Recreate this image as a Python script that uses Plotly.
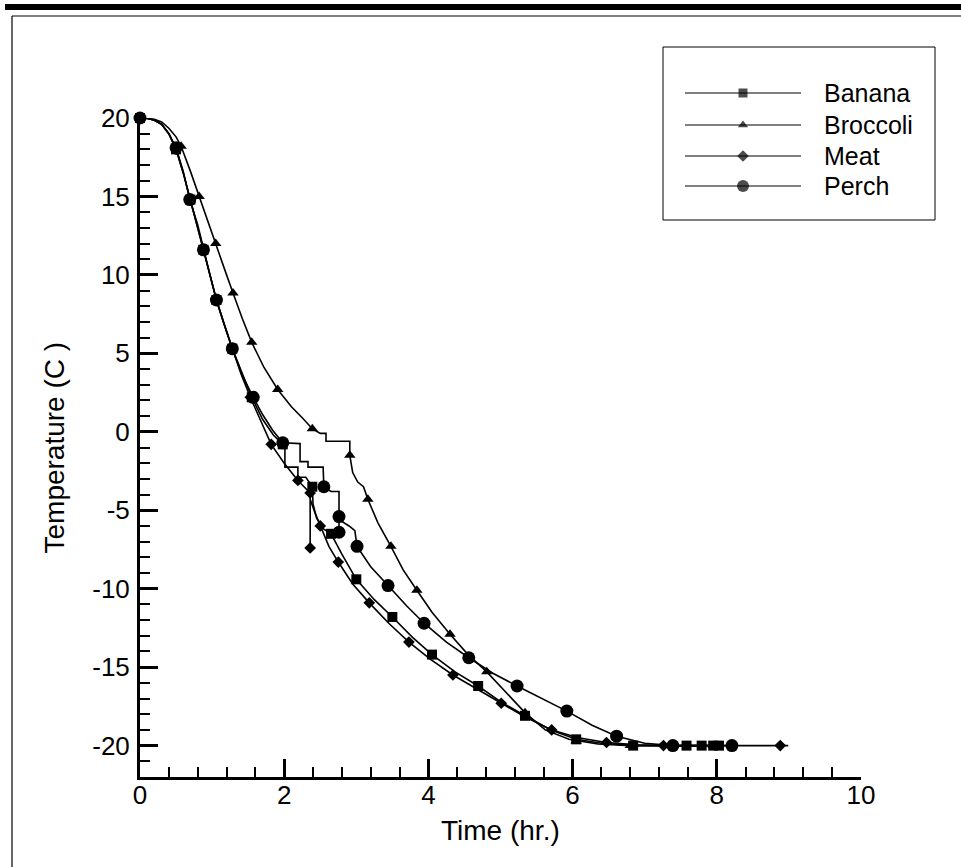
import plotly.graph_objects as go

# ---------------- data (time in hr, temperature in C) ----------------
banana_line = [(0, 20), (0.1, 19.98), (0.2, 19.85), (0.3, 19.6), (0.4, 19.0), (0.5, 18.0), (0.6, 16.5),
               (0.7, 14.8), (0.8, 13.1), (0.88, 11.6), (0.97, 10.0), (1.06, 8.4), (1.17, 6.8), (1.28, 5.3),
               (1.42, 3.7), (1.55, 2.2), (1.7, 0.8), (1.85, -0.2), (1.98, -0.8), (2.01, -0.8), (2.01, -2.25),
               (2.19, -2.25), (2.19, -2.9), (2.3, -2.9), (2.39, -3.5), (2.4, -4.6), (2.45, -5.5), (2.55, -6.2),
               (2.65, -6.5), (2.8, -7.8), (3.0, -9.4), (3.25, -10.7), (3.5, -11.8), (3.78, -13.1), (4.05, -14.2),
               (4.37, -15.3), (4.69, -16.2), (5.0, -17.2), (5.34, -18.1), (5.7, -19.0), (6.05, -19.6),
               (6.4, -19.85), (6.84, -20.0), (7.3, -20.0), (8.03, -20.0)]
banana_marks = [(0, 20), (0.5, 18.0), (0.7, 14.8), (0.88, 11.6), (1.06, 8.4), (1.28, 5.3), (1.55, 2.2),
                (1.98, -0.8), (2.39, -3.5), (2.65, -6.5), (3.0, -9.4), (3.5, -11.8), (4.05, -14.2),
                (4.69, -16.2), (5.34, -18.1), (6.05, -19.6), (6.84, -20.0), (7.58, -20.0), (7.79, -20.0),
                (7.95, -20.0), (8.03, -20.0)]

broccoli_line = [(0, 20), (0.1, 19.98), (0.2, 19.92), (0.3, 19.75), (0.4, 19.35), (0.5, 18.8), (0.57, 18.2),
                 (0.7, 16.6), (0.82, 15.0), (0.93, 13.5), (1.05, 12.0), (1.17, 10.4), (1.29, 8.85), (1.42, 7.2),
                 (1.55, 5.7), (1.72, 4.1), (1.91, 2.7), (2.1, 1.6), (2.25, 0.9), (2.39, 0.2), (2.5, -0.1),
                 (2.58, -0.1), (2.58, -0.6), (2.91, -0.6), (2.91, -1.5), (2.95, -2.6), (3.02, -3.2), (3.1, -3.5),
                 (3.16, -4.3), (3.3, -5.8), (3.48, -7.3), (3.65, -8.8), (3.84, -10.1), (4.05, -11.5),
                 (4.3, -12.9), (4.55, -14.2), (4.81, -15.3), (5.07, -16.6), (5.34, -17.9), (5.62, -19.0),
                 (5.95, -19.6), (6.35, -19.9), (6.8, -20.0), (7.95, -20.0)]
broccoli_marks = [(0, 20), (0.57, 18.2), (0.82, 15.0), (1.05, 12.0), (1.29, 8.85), (1.55, 5.7), (1.91, 2.7),
                  (2.39, 0.2), (2.91, -1.5), (3.16, -4.3), (3.48, -7.3), (3.84, -10.1), (4.3, -12.9),
                  (4.81, -15.3), (5.34, -17.9), (6.05, -19.7), (6.8, -20.0), (7.95, -20.0)]

meat_line = [(0, 20), (0.1, 19.98), (0.2, 19.85), (0.3, 19.6), (0.4, 19.0), (0.5, 18.0), (0.6, 16.5),
             (0.7, 14.8), (0.8, 13.1), (0.88, 11.6), (0.97, 10.0), (1.06, 8.4), (1.17, 6.8), (1.28, 5.3),
             (1.4, 3.7), (1.53, 2.2), (1.68, 0.6), (1.82, -0.8), (2.0, -2.0), (2.19, -3.1), (2.36, -3.9),
             (2.36, -7.4), (2.36, -4.3), (2.43, -5.2), (2.5, -6.0), (2.62, -7.3), (2.75, -8.3), (2.95, -9.7),
             (3.18, -10.9), (3.45, -12.2), (3.73, -13.4), (4.03, -14.5), (4.34, -15.5), (4.67, -16.4),
             (5.01, -17.3), (5.35, -18.2), (5.71, -19.0), (6.08, -19.5), (6.47, -19.8), (6.9, -19.95),
             (7.26, -20.0), (8.88, -20.0), (8.99, -20.0)]
meat_marks = [(0, 20), (0.5, 18.0), (0.7, 14.8), (0.88, 11.6), (1.06, 8.4), (1.28, 5.3), (1.53, 2.2),
              (1.82, -0.8), (2.19, -3.1), (2.36, -3.9), (2.36, -7.4), (2.5, -6.0), (2.75, -8.3), (3.18, -10.9),
              (3.73, -13.4), (4.34, -15.5), (5.01, -17.3), (5.71, -19.0), (6.47, -19.8), (7.26, -20.0),
              (8.88, -20.0)]

perch_line = [(0, 20), (0.1, 19.98), (0.2, 19.85), (0.3, 19.6), (0.4, 19.0), (0.5, 18.1), (0.6, 16.6),
              (0.69, 14.8), (0.8, 13.2), (0.88, 11.6), (0.97, 10.0), (1.06, 8.4), (1.17, 6.8), (1.28, 5.3),
              (1.42, 3.6), (1.57, 2.2), (1.7, 1.1), (1.84, 0.1), (1.98, -0.7), (2.22, -0.75), (2.22, -1.9),
              (2.33, -1.9), (2.33, -2.25), (2.54, -2.25), (2.55, -3.5), (2.65, -3.8), (2.76, -3.8),
              (2.76, -6.4), (2.76, -5.6), (2.9, -6.0), (2.98, -6.3), (3.01, -7.3), (3.2, -8.6), (3.44, -9.8),
              (3.7, -11.1), (3.94, -12.2), (4.25, -13.4), (4.56, -14.4), (4.9, -15.4), (5.23, -16.2),
              (5.58, -17.0), (5.92, -17.8), (6.27, -18.7), (6.61, -19.4), (7.0, -19.85), (7.39, -20.0),
              (8.21, -20.0)]
perch_marks = [(0, 20), (0.5, 18.1), (0.69, 14.8), (0.88, 11.6), (1.06, 8.4), (1.28, 5.3), (1.57, 2.2),
               (1.98, -0.7), (2.55, -3.5), (2.76, -5.4), (2.76, -6.4), (3.01, -7.3), (3.44, -9.8),
               (3.94, -12.2), (4.56, -14.4), (5.23, -16.2), (5.92, -17.8), (6.61, -19.4), (7.39, -20.0),
               (8.21, -20.0)]

series_names = ["Banana", "Broccoli", "Meat", "Perch"]
x_title = "Time (hr.)"
y_title = "Temperature (C )"
x_tick_values = [0, 2, 4, 6, 8, 10]
x_tick_labels = ["0", "2", "4", "6", "8", "10"]
y_tick_values = [20, 15, 10, 5, 0, -5, -10, -15, -20]
y_tick_labels = ["20", "15", "10", "5", "0", "-5", "-10", "-15", "-20"]

# ---------------- styling ----------------
FONT = "Liberation Sans, Arial, Helvetica, sans-serif"
W, H = 961, 867
symbols = {"Banana": "square", "Broccoli": "triangle-up", "Meat": "diamond", "Perch": "circle"}
msize = {"Banana": 10, "Broccoli": 10, "Meat": 9, "Perch": 13}
lsize = {"Banana": 9, "Broccoli": 9, "Meat": 9, "Perch": 12}
lines = {"Banana": banana_line, "Broccoli": broccoli_line, "Meat": meat_line, "Perch": perch_line}
marks = {"Banana": banana_marks, "Broccoli": broccoli_marks, "Meat": meat_marks, "Perch": perch_marks}

# plot area in pixels
PL, PR, PT, PB = 140, 861, 118, 777

fig = go.Figure()
for name in series_names:
    lx, ly = zip(*lines[name])
    fig.add_trace(go.Scatter(x=list(lx), y=list(ly), mode="lines", line=dict(color="black", width=1.6),
                             showlegend=False, cliponaxis=False, xaxis="x", yaxis="y"))
for name in series_names:
    mx, my = zip(*marks[name])
    fig.add_trace(go.Scatter(x=list(mx), y=list(my), mode="markers", name=name,
                             marker=dict(symbol=symbols[name], size=msize[name], color="black",
                                         line=dict(width=0)),
                             showlegend=False, cliponaxis=False, xaxis="x", yaxis="y"))

# legend drawn in a pixel-coordinate overlay subplot
LEG_X0, LEG_X1, LEG_Y0, LEG_Y1 = 663, 935, 47, 220
LEG_LX0, LEG_LX1, LEG_MX, LEG_TX = 685, 801, 743, 822
LEG_ROWS = [93, 125, 156, 186]

fig.add_trace(go.Scatter(x=[LEG_MX] * 4, y=LEG_ROWS, mode="markers",
                         marker=dict(symbol=[symbols[n] for n in series_names],
                                     size=[lsize[n] for n in series_names], color="black", line=dict(width=0)),
                         showlegend=False, cliponaxis=False, xaxis="x2", yaxis="y2", hoverinfo="skip"))

shapes = [
    dict(type="rect", xref="x2", yref="y2", x0=5, x1=961, y0=4, y1=10, fillcolor="black",
         line=dict(width=0)),
    dict(type="line", xref="x2", yref="y2", x0=12, x1=961, y0=16, y1=16, line=dict(color="black", width=1.2)),
    dict(type="line", xref="x2", yref="y2", x0=12, x1=12, y0=16, y1=867, line=dict(color="black", width=1.2)),
    dict(type="rect", xref="x2", yref="y2", x0=LEG_X0, x1=LEG_X1, y0=LEG_Y0, y1=LEG_Y1,
         line=dict(color="black", width=1), fillcolor="rgba(0,0,0,0)"),
]
for ry in LEG_ROWS:
    shapes.append(dict(type="line", xref="x2", yref="y2", x0=LEG_LX0, x1=LEG_LX1, y0=ry, y1=ry,
                       line=dict(color="black", width=1), layer="below"))

annotations = []
for name, ry in zip(series_names, LEG_ROWS):
    annotations.append(dict(xref="x2", yref="y2", x=LEG_TX, y=ry, text=name, showarrow=False,
                            xanchor="left", yanchor="middle", font=dict(family=FONT, size=25, color="black")))
annotations.append(dict(xref="x2", yref="y2", x=(PL + PR) / 2, y=830, text=x_title, showarrow=False,
                        xanchor="center", yanchor="middle", font=dict(family=FONT, size=28, color="black")))
annotations.append(dict(xref="x2", yref="y2", x=54, y=(PT + PB) / 2, text=y_title, showarrow=False,
                        textangle=-90, xanchor="center", yanchor="middle",
                        font=dict(family=FONT, size=28, color="black")))

axis_common = dict(showgrid=False, zeroline=False, showline=True, linecolor="black", linewidth=3,
                   ticks="inside", ticklen=18, tickwidth=3, tickcolor="black", tickmode="array",
                   tickfont=dict(family=FONT, size=26, color="black"), automargin=False)

fig.update_layout(
    width=W, height=H,
    margin=dict(l=0, r=0, t=0, b=0, pad=0),
    paper_bgcolor="white", plot_bgcolor="rgba(0,0,0,0)",
    showlegend=False,
    xaxis=dict(domain=[PL / W, PR / W], range=[0, 10], tickvals=x_tick_values, ticktext=x_tick_labels,
               anchor="y",
               minor=dict(ticks="inside", ticklen=10, tickwidth=1.5, tickcolor="black", dtick=0.4, tick0=0),
               ticklabelstandoff=-7, **axis_common),
    yaxis=dict(domain=[1 - PB / H, 1 - PT / H], range=[-22, 20], tickvals=y_tick_values,
               ticktext=y_tick_labels, anchor="x",
               minor=dict(ticks="inside", ticklen=10, tickwidth=1.5, tickcolor="black", dtick=1, tick0=0),
               ticklabelstandoff=2, **axis_common),
    xaxis2=dict(domain=[0, 1], range=[0, W], visible=False, anchor="y2", fixedrange=True),
    yaxis2=dict(domain=[0, 1], range=[H, 0], visible=False, anchor="x2", fixedrange=True),
    shapes=shapes,
    annotations=annotations,
)

fig.write_html("out.html")
